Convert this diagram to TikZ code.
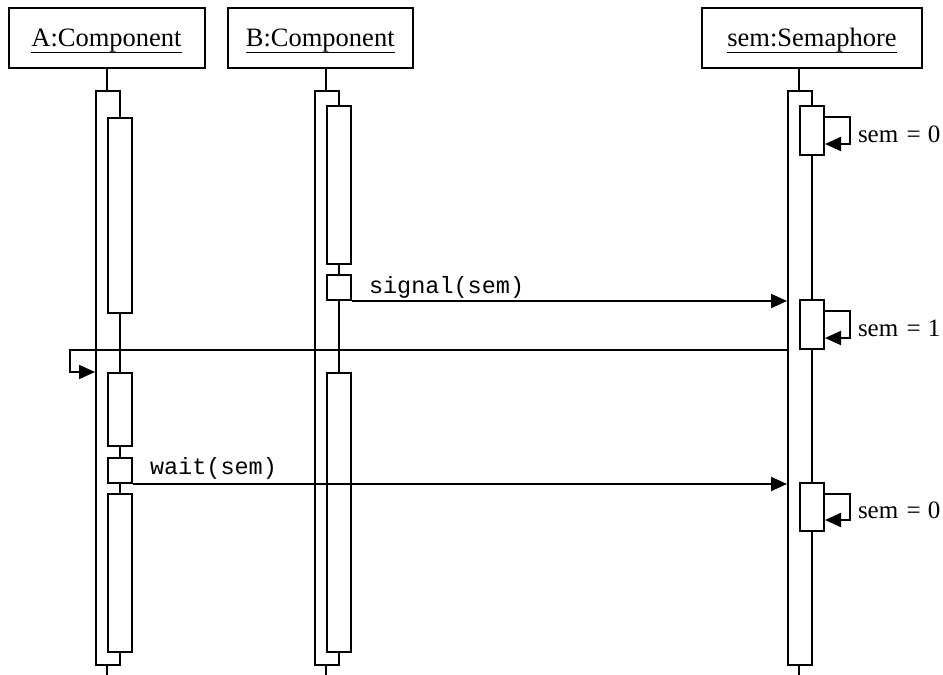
\documentclass[tikz,border=0pt]{standalone}
\usepackage{fontspec}
\setmainfont{Liberation Serif}
\setmonofont{Liberation Mono}
\usetikzlibrary{arrows.meta,calc}
% underlined object name with a fixed rule position
\newcommand\objname[1]{\setbox0\hbox{#1}\rlap{\rule[-6.75pt]{\wd0}{1.5pt}}\box0}
\begin{document}
\begin{tikzpicture}[x=1pt,y=-1pt,line width=2pt]
\tikzset{
  hdr/.style={draw, fill=white, inner sep=0pt, minimum height=60.5pt,
    text height=18pt, text depth=1pt, font=\fontsize{26.5}{30}\selectfont},
  act/.style={draw, fill=white, inner sep=0pt, minimum width=24pt, anchor=north west},
  msg/.style={-{Triangle[length=16pt,width=14pt]}},
  msglabel/.style={font=\fontsize{23.5}{26}\selectfont\ttfamily, anchor=base west, inner sep=0pt},
  statelabel/.style={font=\fontsize{25}{28}\selectfont, anchor=base west, inner sep=0pt},
}
\useasboundingbox (0,0) rectangle (943,675);

% objects
\node[hdr, minimum width=196pt]   (A) at (106.5,37.75) {\objname{A:Component}};
\node[hdr, minimum width=185.5pt] (B) at (320.25,37.75) {\objname{B:Component}};
\node[hdr, minimum width=220pt]   (S) at (812,37.75) {\objname{sem:Semaphore}};

% lifelines
\coordinate (la) at (107,675);
\coordinate (lb) at (326,675);
\coordinate (ls) at (799,675);
\draw (A.south -| la) -- (la);
\draw (B.south -| lb) -- (lb);
\draw (S.south -| ls) -- (ls);

% outer activations
\node[act, minimum height=574pt] (Ao) at (95,90) {};
\node[act, minimum height=574pt] (Bo) at (314,90) {};
\node[act, minimum height=574pt] (So) at (787,90) {};

% nested activations of A
\node[act, minimum height=195pt] (A1) at (107,117) {};
\node[act, minimum height=73pt]  (A2) at (107,372) {};
\node[act, minimum height=25pt]  (Aw) at (107,457) {};
\node[act, minimum height=158pt] (A3) at (107,493) {};

% nested activations of B
\node[act, minimum height=157.5pt] (B1) at (326,105) {};
\node[act, minimum height=25pt]    (Bs) at (326,274) {};
\node[act, minimum height=279pt]   (B2) at (326,372) {};

% nested activations of the semaphore
\node[act, minimum height=49pt] (S1) at (799,105) {};
\node[act, minimum height=49pt] (S2) at (799,299) {};
\node[act, minimum height=48pt] (S3) at (799,482) {};

% messages
\draw[msg] (Bs.south east) -- (Bs.south east -| So.west);
\node[msglabel] (sigl) at (368,293) {signal(sem)};
\draw[msg] (Aw.south east) -- (Aw.south east -| So.west);
\node[msglabel] (waitl) at (149,474) {wait(sem)};

% release back to A
\coordinate (rc) at (70,0);
\draw[msg] (S2.south -| So.west) -| (rc |- A2.north) -- (A2.north -| Ao.west);

% self updates of the semaphore value
\foreach \s/\v in {S1/0, S2/1, S3/0} {
  \draw[msg] ($(\s.north east)+(0,12)$) -- ++(25,0) |- ($(\s.south east)+(0,-12)$);
  \node[statelabel] (\s v) at ($(\s.south east)+(32,-13.5)$) {sem\hspace{2pt} =\hspace{1pt} \v};
}
\end{tikzpicture}
\end{document}
